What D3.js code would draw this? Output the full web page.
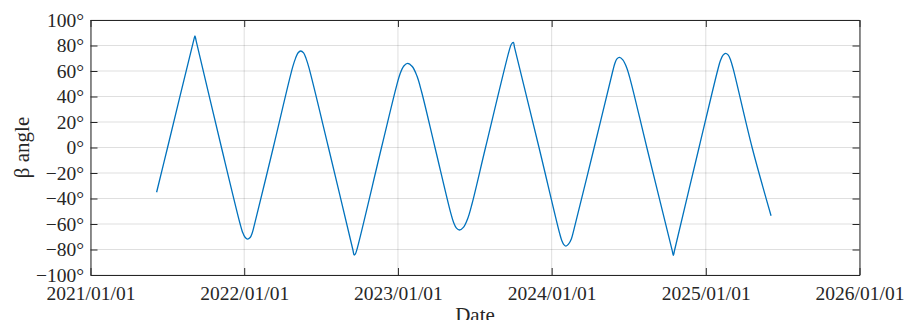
<!DOCTYPE html>
<html>
<head>
<meta charset="utf-8">
<script src="https://cdn.jsdelivr.net/npm/d3@7"></script>
<style>
  body { margin: 0; background: #fff; }
  svg { display: block; }
  .axis text { font-family: "Liberation Serif", "DejaVu Serif", serif; font-size: 19.5px; fill: #262626; }
  .axis path, .axis line { stroke: #262626; }
  .label { font-family: "Liberation Serif", "DejaVu Serif", serif; font-size: 21px; fill: #262626; }
</style>
</head>
<body>
<svg class="main" width="905" height="320"></svg>
<script>
'use strict';

// beta angle samples
var dates = [
  '2021-06-07', '2021-07-03', '2021-09-03', '2021-09-06', '2021-09-09', '2021-11-08',
  '2021-12-22', '2021-12-28', '2022-01-03', '2022-01-09', '2022-01-15', '2022-01-20', '2022-01-25', '2022-03-11',
  '2022-04-26', '2022-05-03', '2022-05-09', '2022-05-15', '2022-05-22', '2022-05-28', '2022-06-04', '2022-07-20',
  '2022-09-16', '2022-09-19', '2022-09-22', '2022-09-25', '2022-11-23',
  '2022-12-28', '2023-01-06', '2023-01-15', '2023-01-24', '2023-02-04', '2023-02-15', '2023-02-26', '2023-03-30',
  '2023-05-06', '2023-05-13', '2023-05-20', '2023-05-27', '2023-06-06', '2023-06-16', '2023-06-26', '2023-07-28',
  '2023-09-22', '2023-09-27', '2023-10-02', '2023-10-05', '2023-12-02',
  '2024-01-20', '2024-01-25', '2024-01-30', '2024-02-04', '2024-02-10', '2024-02-17', '2024-02-23', '2024-04-11',
  '2024-05-25', '2024-05-30', '2024-06-04', '2024-06-10', '2024-06-18', '2024-06-27', '2024-07-06', '2024-08-14',
  '2024-10-13', '2024-10-16', '2024-10-19', '2024-12-16',
  '2025-01-30', '2025-02-05', '2025-02-11', '2025-02-17', '2025-02-23', '2025-03-01', '2025-03-07', '2025-04-21',
  '2025-06-05'
];
var beta = [
  -35.1, 0, 84.0, 87.5, 83.5, 0,
  -59.6, -66.4, -70.4, -71.8, -70.6, -67.0, -60.9, 0,
  63.0, 70.1, 74.3, 75.7, 74.2, 69.7, 62.2, 0,
  -80.2, -84.3, -83.4, -80.7, 0,
  47.4, 57.7, 63.9, 66.0, 63.5, 56.2, 43.9, 0,
  -50.9, -58.6, -63.2, -64.7, -62.4, -55.5, -44.1, 0,
  75.8, 80.8, 82.5, 78.4, 0,
  -67.4, -72.9, -76.2, -77.3, -75.8, -71.5, -64.2, 0,
  59.8, 65.9, 69.5, 70.7, 68.7, 62.8, 52.9, 0,
  -80.5, -84.6, -80.4, 0,
  61.6, 68.4, 72.5, 73.9, 72.6, 68.5, 61.8, 0,
  -53.5
];
var yearTicks = ['2021-01-01', '2022-01-01', '2023-01-01', '2024-01-01', '2025-01-01', '2026-01-01'];
var yTicks = [-100, -80, -60, -40, -20, 0, 20, 40, 60, 80, 100];

var plotLeft = 90.5, plotRight = 859.5, plotTop = 20, plotBottom = 275;
var parse = d3.utcParse('%Y-%m-%d');
var fmt = d3.utcFormat('%Y/%m/%d');

var series = dates.map(function (d, i) {
    return { date: parse(d), value: beta[i] };
});
var xTickDates = yearTicks.map(parse);

var x = d3.scaleUtc()
    .domain([xTickDates[0], xTickDates[xTickDates.length - 1]])
    .range([plotLeft, plotRight]);
var y = d3.scaleLinear()
    .domain([-100, 100])
    .range([plotBottom, plotTop]);

var svg = d3.select('svg.main');

// grid
var grid = svg.append('g').attr('class', 'grid');
grid.selectAll('.hgrid')
    .data(yTicks)
    .enter()
    .append('line')
    .attr('x1', plotLeft).attr('x2', plotRight)
    .attr('y1', function (d) { return y(d); })
    .attr('y2', function (d) { return y(d); })
    .attr('stroke', '#262626')
    .attr('stroke-opacity', 0.15)
    .attr('stroke-width', 1);
grid.selectAll('.vgrid')
    .data(xTickDates)
    .enter()
    .append('line')
    .attr('y1', plotTop).attr('y2', plotBottom)
    .attr('x1', function (d) { return x(d); })
    .attr('x2', function (d) { return x(d); })
    .attr('stroke', '#262626')
    .attr('stroke-opacity', 0.15)
    .attr('stroke-width', 1);

// data line
var line = d3.line()
    .x(function (d) { return x(d.date); })
    .y(function (d) { return y(d.value); })
    .curve(d3.curveCatmullRom.alpha(0.5));

svg.append('path')
    .datum(series)
    .attr('d', line)
    .attr('fill', 'none')
    .attr('stroke', '#0072BD')
    .attr('stroke-width', 1.3);

// axes (inward ticks, box)
var degFmt = function (d) {
    return (d < 0 ? '\u2212' : '') + Math.abs(d) + '\u00b0';
};

svg.append('g')
    .attr('class', 'axis')
    .attr('transform', 'translate(0,' + plotBottom + ')')
    .call(d3.axisBottom(x).tickValues(xTickDates).tickFormat(fmt).tickSizeInner(-7).tickSizeOuter(0).tickPadding(11));

svg.append('g')
    .attr('class', 'axis')
    .attr('transform', 'translate(0,' + plotTop + ')')
    .call(d3.axisTop(x).tickValues(xTickDates).tickFormat('').tickSizeInner(-7).tickSizeOuter(0));

svg.append('g')
    .attr('class', 'axis')
    .attr('transform', 'translate(' + plotLeft + ',0)')
    .call(d3.axisLeft(y).tickValues(yTicks).tickFormat(degFmt).tickSizeInner(-7).tickSizeOuter(0).tickPadding(6.5));

svg.append('g')
    .attr('class', 'axis')
    .attr('transform', 'translate(' + plotRight + ',0)')
    .call(d3.axisRight(y).tickValues(yTicks).tickFormat('').tickSizeInner(-7).tickSizeOuter(0));

svg.selectAll('.axis .domain').attr('stroke-width', 1);
svg.selectAll('.axis text').attr('font-family', null).attr('font-size', null);

// axis labels
svg.append('text')
    .attr('class', 'label')
    .attr('x', (plotLeft + plotRight) / 2)
    .attr('y', 322)
    .attr('text-anchor', 'middle')
    .text('Date');

svg.append('text')
    .attr('class', 'label')
    .attr('transform', 'translate(28.5,' + ((plotTop + plotBottom) / 2) + ') rotate(-90)')
    .attr('text-anchor', 'middle')
    .text('\u03b2 angle');
</script>
</body>
</html>
